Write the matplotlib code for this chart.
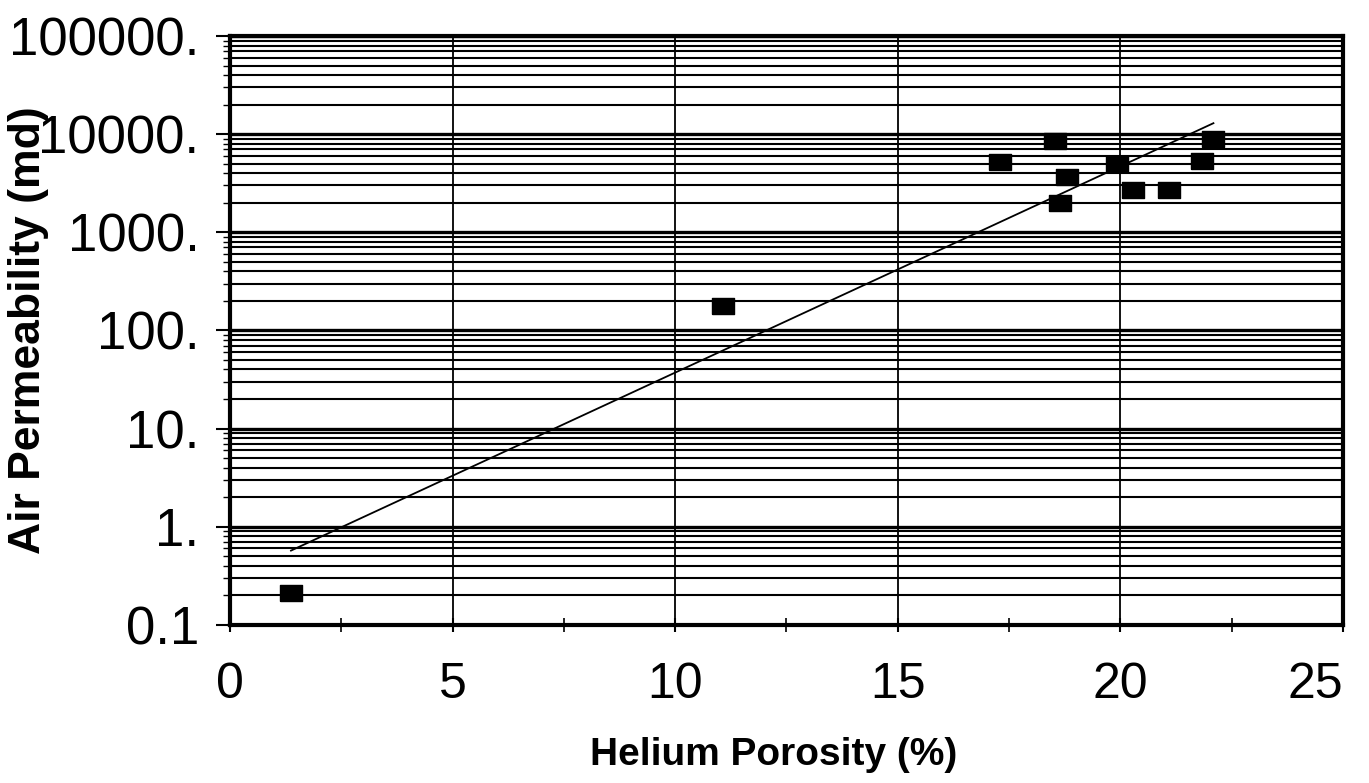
import numpy as np
import matplotlib.pyplot as plt
from matplotlib.ticker import LogLocator, FixedLocator, NullFormatter

# --- data ---
porosity = [1.37, 11.08, 17.30, 18.54, 18.65, 18.79, 19.93, 20.29, 21.10, 21.84, 22.09]
permeability = [0.21, 176, 5200, 8500, 1980, 3650, 4950, 2680, 2680, 5300, 8900]

x_ticks = [0, 5, 10, 15, 20, 25]
y_ticks = [0.1, 1, 10, 100, 1000, 10000, 100000]
y_tick_labels = ["0.1", "1.", "10.", "100.", "1000.", "10000.", "100000."]

plt.rcParams['font.family'] = ['Liberation Sans', 'DejaVu Sans']

fig = plt.figure(figsize=(13.69, 7.83), dpi=100)
ax = fig.add_axes([0.168, 0.202, 0.813, 0.752])

ax.set_yscale('log')
ax.set_xlim(0, 25)
ax.set_ylim(0.1, 100000)

# gridlines: every log minor step plus majors, verticals at 5s
ax.yaxis.set_major_locator(FixedLocator(y_ticks))
ax.yaxis.set_minor_locator(LogLocator(base=10, subs=np.arange(2, 10), numticks=30))
ax.yaxis.set_minor_formatter(NullFormatter())
ax.set_yticklabels(y_tick_labels)
ax.xaxis.set_major_locator(FixedLocator(x_ticks))
ax.xaxis.set_minor_locator(FixedLocator(np.arange(0, 25.1, 2.5)))

ax.grid(True, which='major', axis='y', color='black', lw=2.4)
ax.grid(True, which='minor', axis='y', color='black', lw=1.5)
ax.grid(True, which='major', axis='x', color='black', lw=1.3)

# exponential trendline (least squares on log values, Excel style)
xs = np.array(porosity)
slope, intercept = np.polyfit(xs, np.log10(permeability), 1)
xfit = np.linspace(xs.min(), xs.max(), 50)
ax.plot(xfit, 10 ** (intercept + slope * xfit), color='black', lw=1.3, zorder=3)

# slightly wide rectangles like the scanned markers
rect = [(-1.35, -1), (1.35, -1), (1.35, 1), (-1.35, 1), (-1.35, -1)]
ax.plot(porosity, permeability, ls='none', marker=rect, markersize=16,
        color='black', zorder=4)

for s in ax.spines.values():
    s.set_linewidth(3)
    s.set_color('black')

ax.tick_params(axis='y', which='major', labelsize=38, length=10, width=1.5, pad=12)
ax.tick_params(axis='y', which='minor', length=5, width=1)
ax.tick_params(axis='x', which='major', labelsize=36, length=10, width=1.5,
               direction='inout', pad=22)
ax.tick_params(axis='x', which='minor', length=10, width=1.2, direction='inout')

# keep the last x label inside the figure, as in the scan
fig.canvas.draw()
ax.get_xticklabels()[-1].set_horizontalalignment('right')

ax.set_xlabel('Helium Porosity (%)', fontsize=28, fontweight='bold')
ax.set_ylabel('Air Permeability (md)', fontsize=32, fontweight='bold')
ax.xaxis.set_label_coords(0.488, -0.19)
ax.yaxis.set_label_coords(-0.163, 0.5)

fig.savefig('out.png', dpi=100)
